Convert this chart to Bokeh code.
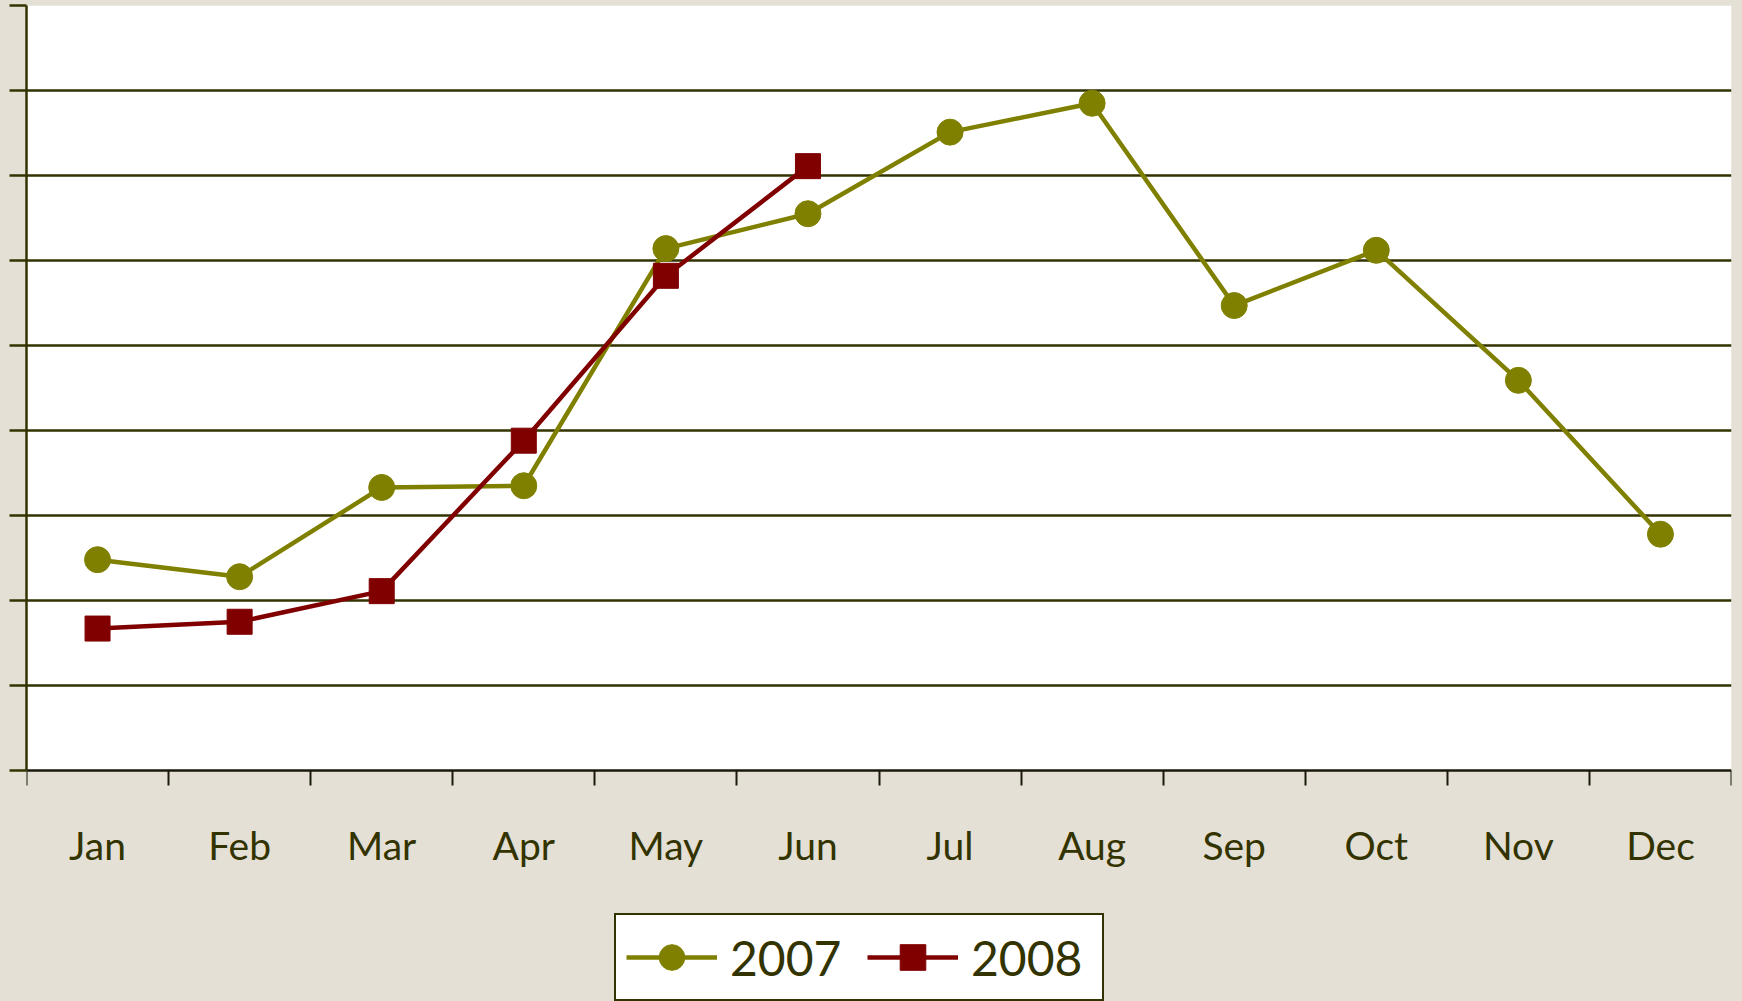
from bokeh.plotting import figure
from bokeh.models import (Range1d, FixedTicker, Legend, LegendItem,
                          CustomLabelingPolicy, BoxAnnotation)
from bokeh.embed import file_html
from bokeh.resources import INLINE

months = ["Jan", "Feb", "Mar", "Apr", "May", "Jun",
          "Jul", "Aug", "Sep", "Oct", "Nov", "Dec"]
series_2007 = [2.48, 2.28, 3.33, 3.35, 6.14, 6.55, 7.51, 7.85, 5.47, 6.12, 4.59, 2.78]
series_2008 = [1.67, 1.75, 2.11, 3.88, 5.82, 7.11]
y_ticks = [0, 1, 2, 3, 4, 5, 6, 7, 8, 9]

OLIVE = "#808000"
MAROON = "#800000"
INK = "#333300"
BG = "#e4e0d5"

Y_MIN, Y_MAX = 0, 9
BELOW = 2.7176   # room under the x axis (in y units) for labels and legend

xc = [i + 0.5 for i in range(len(months))]
x07 = xc[:len(series_2007)]
x08 = xc[:len(series_2008)]

p = figure(width=1742, height=1001,
           x_range=Range1d(0, len(months)), y_range=Range1d(Y_MIN - BELOW, Y_MAX),
           output_backend="svg", toolbar_location=None,
           min_border_left=23, min_border_right=11, min_border_top=5,
           min_border_bottom=0,
           background_fill_color=BG, border_fill_color=BG,
           outline_line_color=None)

# white plotting area
p.add_layout(BoxAnnotation(bottom=Y_MIN, top=Y_MAX, fill_color="white", fill_alpha=1,
                           line_color=None, level="image"))

# x axis at y = 0: labels at category centres, tick marks at category boundaries
xa = p.xaxis[0]
xa.fixed_location = Y_MIN
xa.ticker = FixedTicker(ticks=xc, minor_ticks=list(range(len(months) + 1)))
xa.major_label_overrides = {v: m for v, m in zip(xc, months)}
xa.major_tick_out = 0
xa.major_tick_in = 0
xa.minor_tick_out = 15
xa.minor_tick_in = 0
xa.minor_tick_line_color = "#1a1a0a"
xa.minor_tick_line_width = 2
xa.axis_line_color = "#1a1a0a"
xa.axis_line_width = 2.5
xa.major_label_standoff = 36
xa.major_label_text_font = "Lato"
xa.major_label_text_font_size = "39px"
xa.major_label_text_color = INK

# y axis: tick marks only, no labels
ya = p.yaxis[0]
ya.ticker = FixedTicker(ticks=y_ticks)
ya.bounds = (Y_MIN, Y_MAX)
ya.major_label_policy = CustomLabelingPolicy(
    code="for (const i of indices) { if (i < 0) { yield i } }")
ya.major_label_standoff = 0
ya.major_tick_out = 17
ya.major_tick_in = 0
ya.minor_tick_line_color = None
ya.major_tick_line_color = INK
ya.major_tick_line_width = 2.5
ya.axis_line_color = INK
ya.axis_line_width = 2.5

p.xgrid.grid_line_color = None
p.ygrid.ticker = FixedTicker(ticks=y_ticks[1:-1])
p.ygrid.grid_line_color = INK
p.ygrid.grid_line_width = 2.5

l07 = p.line(x07, series_2007, line_color=OLIVE, line_width=4.5)
s07 = p.scatter(x07, series_2007, marker="circle", size=26,
                fill_color=OLIVE, line_color=OLIVE)
l08 = p.line(x08, series_2008, line_color=MAROON, line_width=4.5)
s08 = p.scatter(x08, series_2008, marker="square", size=25,
                fill_color=MAROON, line_color=MAROON)

legend = Legend(items=[LegendItem(label="2007", renderers=[l07, s07]),
                       LegendItem(label="2008", renderers=[l08, s08])],
                orientation="horizontal", location=(588, 0), margin=0,
                padding=10, spacing=16, label_standoff=13, label_width=121,
                glyph_width=91, glyph_height=64,
                label_text_font="Lato", label_text_font_size="48px",
                label_text_color=INK,
                background_fill_color="white", background_fill_alpha=1,
                border_line_color=INK, border_line_alpha=1,
                border_line_width=2.5)
p.add_layout(legend)

html = file_html(p, INLINE)
html = html.replace("<head>", "<head><style>html,body{background:%s;}</style>" % BG, 1)
open("out.html", "w").write(html)
